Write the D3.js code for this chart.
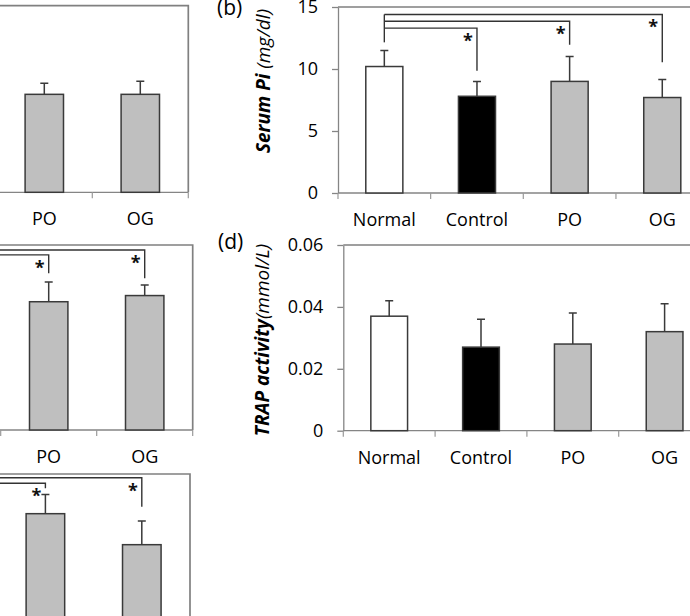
<!DOCTYPE html>
<html>
<head>
<meta charset="utf-8">
<style>
  body { margin: 0; background: #fff; }
  svg { display: block; font-family: "Open Sans", sans-serif; }
</style>
</head>
<body>
<script src="https://cdn.jsdelivr.net/npm/d3@7"></script>
<script>
// groups shared by every panel
var groups = ["Normal", "Control", "PO", "OG"];
var fills = ["#ffffff", "#000000", "#bfbfbf", "#bfbfbf"];

// (a) only PO / OG are in view, the rest is off the left edge
var aMean = [10.6, 10.2, 10.5, 10.5];
var aErr = [1.0, 1.3, 1.2, 1.4];
var aTicks = [0, 5, 10, 15, 20];

// (b) serum Pi
var bMean = [10.2, 7.8, 9.0, 7.7];
var bErr = [1.3, 1.2, 2.0, 1.45];
var bTicks = [0, 5, 10, 15];
var bTickLabels = ["0", "5", "10", "15"];
var bSigTo = ["Control", "PO", "OG"];
var bSigLevel = [13.3, 13.85, 14.4];
var bSigEnd = [12.15, 9.85, 11.95, 10.55]; // drop ends: Normal, Control, PO, OG

// (c)
var cMean = [130, 70, 104, 109];
var cErr = [12, 10, 16, 8.5];
var cTicks = [0, 50, 100, 150];
var cSigTo = ["PO", "OG"];
var cSigLevel = [142, 146];
var cSigEnd = [128, 0, 127, 123];

// (d) TRAP activity
var dMean = [0.037, 0.027, 0.028, 0.032];
var dErr = [0.005, 0.009, 0.010, 0.009];
var dTicks = [0, 0.02, 0.04, 0.06];
var dTickLabels = ["0", "0.02", "0.04", "0.06"];

// (e)
var eMean = [125, 60, 118, 93];
var eErr = [15, 12, 15.5, 19];
var eTicks = [0, 50, 100, 150];
var eSigTo = ["PO", "OG"];
var eSigLevel = [142.5, 147];
var eSigEnd = [135, 0, 138.5, 123.5];

var svg = d3.select("body").append("svg")
    .attr("width", 690)
    .attr("height", 616);

function drawPanel(p) {
    var g = svg.append("g");
    var x = d3.scaleBand().domain(groups)
        .range([p.left, p.right])
        .paddingInner(0.6).paddingOuter(0.3);
    var y = d3.scaleLinear().domain([0, p.ticks[p.ticks.length - 1]])
        .range([p.bottom, p.top]);
    var step = x.step();
    var cx = function (k) { return x(k) + x.bandwidth() / 2; };

    // frame (top + right)
    g.append("path")
        .attr("d", "M" + p.left + "," + p.top + "H" + p.right + "V" + p.bottom)
        .attr("fill", "none").attr("stroke", "#808080").attr("stroke-width", 1.7);

    // y axis
    var yAxis = d3.axisLeft(y).tickValues(p.ticks).tickSize(6).tickSizeOuter(0).tickPadding(14)
        .tickFormat(function (d, i) { return p.tickLabels ? p.tickLabels[i] : d; });
    var ya = g.append("g").attr("transform", "translate(" + p.left + ",0)").call(yAxis);
    ya.select(".domain").attr("stroke", "#858585").attr("stroke-width", 1.3);
    ya.selectAll(".tick line").attr("stroke", "#858585").attr("stroke-width", 1.3);
    ya.selectAll("text").attr("font-size", 18).attr("fill", "#000")
        .attr("font-family", "Open Sans, sans-serif");

    // x axis line + boundary ticks
    g.append("line").attr("x1", p.left).attr("x2", p.right)
        .attr("y1", p.bottom).attr("y2", p.bottom)
        .attr("stroke", "#858585").attr("stroke-width", 1.3);
    g.selectAll(".bt").data(d3.range(groups.length + 1)).join("line")
        .attr("x1", function (i) { return p.left + i * step; })
        .attr("x2", function (i) { return p.left + i * step; })
        .attr("y1", p.bottom).attr("y2", p.bottom + 6)
        .attr("stroke", "#9a9a9a").attr("stroke-width", 1.2);
    g.selectAll(".cat").data(groups).join("text")
        .attr("x", cx).attr("y", p.bottom + 33)
        .attr("text-anchor", "middle").attr("font-size", 18).attr("fill", "#000")
        .text(function (d) { return d; });

    // bars
    g.selectAll(".bar").data(groups).join("rect")
        .attr("x", function (d) { return x(d); })
        .attr("width", x.bandwidth())
        .attr("y", function (d, i) { return y(p.mean[i]); })
        .attr("height", function (d, i) { return p.bottom - y(p.mean[i]); })
        .attr("fill", function (d, i) { return fills[i]; })
        .attr("stroke", "#3a3a3a").attr("stroke-width", 1.5);

    // error bars (upper half only)
    g.selectAll(".err").data(groups).join("path")
        .attr("d", function (d, i) {
            var c = cx(d), t = y(p.mean[i] + p.err[i]);
            return "M" + c + "," + y(p.mean[i]) + "V" + t + "M" + (c - 4) + "," + t + "H" + (c + 4);
        })
        .attr("fill", "none").attr("stroke", "#3a3a3a").attr("stroke-width", 1.5);

    // significance brackets from Normal
    if (p.sigTo) {
        var xn = cx("Normal");
        g.append("line")
            .attr("x1", xn).attr("x2", xn)
            .attr("y1", y(d3.max(p.sigLevel))).attr("y2", y(p.sigEnd[0]))
            .attr("stroke", "#333").attr("stroke-width", 1.4);
        p.sigTo.forEach(function (k, j) {
            var xt = cx(k), lv = y(p.sigLevel[j]);
            g.append("path")
                .attr("d", "M" + xn + "," + lv + "H" + xt + "V" + y(p.sigEnd[groups.indexOf(k)]))
                .attr("fill", "none").attr("stroke", "#333").attr("stroke-width", 1.4);
            g.append("text")
                .attr("x", xt - 9).attr("y", lv + 19)
                .attr("text-anchor", "middle").attr("font-size", 18).attr("font-weight", "bold")
                .attr("fill", "#111").text("*");
        });
    }

    // y title
    if (p.title) {
        var tt = g.append("text")
            .attr("transform", "translate(" + p.titleX + "," + p.titleY + ") rotate(-90)")
            .attr("text-anchor", "middle").attr("font-size", 19).attr("font-style", "italic")
            .attr("fill", "#000");
        tt.append("tspan").attr("font-weight", "bold").text(p.title[0]);
        tt.append("tspan").text(p.title[1]);
    }

    // panel letter
    g.append("text").attr("x", p.lx).attr("y", p.ly)
        .attr("font-size", 21).attr("fill", "#000").text(p.label);
}

drawPanel({ label: "(a)", lx: -316, ly: 14, left: -195.7, right: 188.3, top: 5.7, bottom: 192.3,
    mean: aMean, err: aErr, ticks: aTicks });
drawPanel({ label: "(b)", lx: 217, ly: 15, left: 338, right: 708.6, top: 7, bottom: 193,
    mean: bMean, err: bErr, ticks: bTicks, tickLabels: bTickLabels,
    sigTo: bSigTo, sigLevel: bSigLevel, sigEnd: bSigEnd,
    title: ["Serum Pi ", "(mg/dl)"], titleX: 270, titleY: 81 });
drawPanel({ label: "(c)", lx: -312, ly: 252, left: -191.3, right: 192.7, top: 245, bottom: 430,
    mean: cMean, err: cErr, ticks: cTicks,
    sigTo: cSigTo, sigLevel: cSigLevel, sigEnd: cSigEnd });
drawPanel({ label: "(d)", lx: 218, ly: 249, left: 343.3, right: 710.5, top: 245, bottom: 430.7,
    mean: dMean, err: dErr, ticks: dTicks, tickLabels: dTickLabels,
    title: ["TRAP activity", "(mmol/L)"], titleX: 269, titleY: 340 });
drawPanel({ label: "(e)", lx: -316, ly: 481, left: -195.6, right: 190, top: 474, bottom: 660,
    mean: eMean, err: eErr, ticks: eTicks,
    sigTo: eSigTo, sigLevel: eSigLevel, sigEnd: eSigEnd });
</script>
</body>
</html>
